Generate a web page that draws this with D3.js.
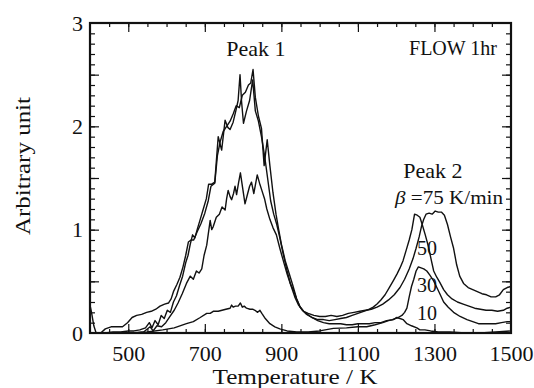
<!DOCTYPE html>
<html>
<head>
<meta charset="utf-8">
<script src="https://cdn.jsdelivr.net/npm/d3@7"></script>
<style>
  html, body { margin: 0; padding: 0; background: #fff; }
  svg { display: block; }
  text { font-family: "Liberation Serif", "Times New Roman", serif; fill: #111; }
</style>
</head>
<body>
<div id="chart"></div>
<script>
const width = 534;
const height = 388;
const margin = { top: 23, right: 23, bottom: 55, left: 90 };

// [temperature K, arbitrary unit]
const beta75 = [[400,0.27],[404,0.2],[410,0.07],[416,0.0],[428,0.0],[440,0.04],[455,0.06],[470,0.06],[485,0.06],[498,0.1],[510,0.15],[522,0.17],[535,0.18],[548,0.2],[560,0.21],[572,0.23],[583,0.26],[595,0.28],[605,0.29],[612,0.33],[618,0.4],[627,0.47],[635,0.54],[643,0.64],[650,0.75],[657,0.88],[664,0.9],[671,0.9],[680,0.98],[690,1.06],[700,1.16],[709,1.28],[716,1.42],[726,1.45],[733,1.72],[740,1.85],[748,1.95],[757,2.0],[766,2.05],[774,2.12],[782,2.2],[790,2.18],[798,2.3],[806,2.33],[814,2.4],[820,2.42],[826,2.55],[832,2.28],[840,2.1],[848,1.98],[855,1.62],[863,1.87],[870,1.62],[878,1.36],[886,1.15],[893,1.0],[900,0.86],[910,0.7],[920,0.58],[930,0.46],[940,0.33],[948,0.26],[958,0.21],[970,0.19],[985,0.17],[1000,0.16],[1015,0.16],[1030,0.17],[1045,0.16],[1060,0.17],[1075,0.19],[1090,0.2],[1105,0.21],[1120,0.22],[1135,0.23],[1150,0.25],[1165,0.28],[1180,0.32],[1195,0.37],[1210,0.44],[1222,0.52],[1234,0.62],[1244,0.72],[1252,0.82],[1260,0.93],[1266,1.03],[1272,1.1],[1278,1.15],[1286,1.16],[1294,1.15],[1302,1.18],[1310,1.17],[1318,1.17],[1326,1.14],[1334,1.05],[1342,0.93],[1350,0.82],[1358,0.66],[1366,0.55],[1376,0.48],[1388,0.44],[1400,0.42],[1412,0.4],[1424,0.38],[1436,0.37],[1448,0.35],[1460,0.35],[1470,0.37],[1480,0.42],[1490,0.44],[1500,0.45]];

const beta50 = [[400,0.0],[420,0.0],[440,0.0],[460,0.01],[480,0.01],[500,0.02],[515,0.02],[530,0.03],[545,0.05],[555,0.1],[562,0.05],[570,0.12],[578,0.08],[586,0.17],[594,0.14],[602,0.22],[610,0.2],[618,0.3],[626,0.36],[634,0.46],[642,0.55],[650,0.68],[656,0.75],[662,0.86],[668,0.95],[674,0.92],[680,1.0],[688,1.1],[696,1.2],[704,1.3],[710,1.44],[718,1.44],[726,1.46],[735,1.9],[744,1.77],[753,2.06],[760,1.99],[766,1.97],[774,2.04],[781,2.15],[787,2.25],[792,2.5],[796,2.24],[801,2.03],[809,2.15],[817,2.25],[825,2.45],[832,2.15],[840,2.05],[848,1.9],[856,1.72],[864,1.5],[872,1.28],[880,1.15],[888,1.05],[896,0.92],[905,0.76],[915,0.6],[925,0.46],[935,0.35],[945,0.27],[955,0.22],[968,0.18],[980,0.15],[995,0.13],[1010,0.13],[1025,0.12],[1040,0.13],[1055,0.14],[1070,0.15],[1085,0.17],[1100,0.19],[1115,0.21],[1130,0.23],[1140,0.25],[1150,0.28],[1160,0.32],[1171,0.37],[1182,0.44],[1193,0.51],[1202,0.57],[1210,0.63],[1218,0.7],[1226,0.8],[1234,0.9],[1241,1.0],[1248,1.15],[1255,1.14],[1262,1.12],[1268,1.05],[1276,0.95],[1284,0.84],[1292,0.7],[1298,0.6],[1306,0.54],[1314,0.49],[1324,0.42],[1334,0.37],[1346,0.33],[1360,0.3],[1375,0.28],[1390,0.26],[1405,0.24],[1420,0.23],[1435,0.22],[1450,0.22],[1465,0.21],[1480,0.22],[1490,0.24],[1500,0.25]];

const beta30 = [[400,0.0],[440,0.0],[480,0.0],[520,0.0],[540,0.01],[557,0.06],[565,0.02],[575,0.07],[587,0.06],[598,0.1],[609,0.16],[620,0.22],[630,0.29],[641,0.38],[652,0.48],[662,0.55],[670,0.52],[678,0.6],[685,0.58],[692,0.62],[698,0.75],[705,0.85],[714,1.09],[718,1.0],[722,1.03],[730,1.12],[738,1.15],[745,1.22],[753,1.19],[757,1.3],[761,1.38],[766,1.32],[770,1.29],[775,1.35],[779,1.42],[783,1.34],[788,1.45],[793,1.55],[799,1.4],[805,1.25],[812,1.35],[817,1.42],[822,1.46],[828,1.35],[833,1.45],[837,1.53],[843,1.45],[849,1.38],[856,1.3],[862,1.2],[870,1.1],[878,1.02],[887,0.95],[896,0.82],[905,0.7],[915,0.57],[923,0.48],[931,0.42],[940,0.33],[949,0.25],[958,0.21],[966,0.18],[980,0.15],[995,0.12],[1010,0.1],[1025,0.09],[1040,0.09],[1055,0.09],[1070,0.08],[1085,0.08],[1100,0.09],[1115,0.09],[1130,0.09],[1145,0.1],[1160,0.1],[1175,0.12],[1190,0.13],[1205,0.15],[1215,0.17],[1222,0.2],[1228,0.24],[1234,0.35],[1240,0.45],[1246,0.52],[1252,0.6],[1258,0.64],[1265,0.63],[1272,0.62],[1280,0.6],[1288,0.56],[1297,0.51],[1305,0.45],[1314,0.38],[1324,0.3],[1336,0.25],[1350,0.2],[1367,0.16],[1385,0.13],[1400,0.11],[1415,0.09],[1430,0.09],[1445,0.09],[1460,0.09],[1475,0.1],[1490,0.11],[1500,0.11]];

const beta10 = [[400,0.0],[450,0.0],[500,0.0],[550,0.01],[590,0.03],[620,0.05],[652,0.09],[670,0.11],[688,0.15],[705,0.19],[714,0.19],[722,0.21],[735,0.21],[745,0.22],[755,0.23],[766,0.24],[770,0.27],[774,0.25],[780,0.26],[787,0.26],[793,0.29],[798,0.25],[803,0.26],[809,0.24],[818,0.23],[825,0.23],[831,0.22],[838,0.2],[844,0.22],[849,0.19],[858,0.14],[870,0.09],[883,0.06],[896,0.04],[915,0.02],[940,0.01],[970,0.01],[1000,0.02],[1036,0.045],[1070,0.05],[1100,0.06],[1123,0.06],[1145,0.08],[1165,0.1],[1180,0.12],[1193,0.13],[1201,0.15],[1210,0.14],[1218,0.13],[1228,0.09],[1240,0.07],[1254,0.05],[1262,0.03],[1275,0.03],[1290,0.02],[1310,0.01],[1340,0.01],[1380,0.0],[1420,0.0],[1460,0.01],[1500,0.02]];

const series = [beta75, beta50, beta30, beta10];
const xTickLabels = [500, 700, 900, 1100, 1300, 1500];
const yTickLabels = [0, 1, 2, 3];
const rateLabels = ["50", "30", "10"];

const svg = d3.select("#chart")
    .append("svg")
    .attr("width", width)
    .attr("height", height)
    .attr("viewBox", [0, 0, width, height]);

const x = d3.scaleLinear()
    .domain([400, 1500])
    .range([margin.left, width - margin.right]);

const y = d3.scaleLinear()
    .domain([0, 3])
    .range([height - margin.bottom, margin.top]);

const xMinor = d3.range(450, 1500, 50);
const xMajor = [500, 700, 900, 1100, 1300];
const yMinor = d3.range(0.1, 3, 0.1);
const yMajor = [0.5, 1, 1.5, 2, 2.5];

function ticks(g) {
    g.select(".domain").remove();
    g.selectAll("line").attr("stroke", "#111").attr("stroke-width", 1.2);
}

// minor + major ticks, all pointing inward
const x0 = height - margin.bottom, x1 = margin.top;
const yL = margin.left, yR = width - margin.right;

svg.append("g").attr("transform", `translate(0,${x0})`)
    .call(d3.axisBottom(x).tickValues(xMinor).tickSize(-4).tickFormat("")).call(ticks);
svg.append("g").attr("transform", `translate(0,${x0})`)
    .call(d3.axisBottom(x).tickValues(xMajor).tickSize(-9).tickFormat("")).call(ticks);
svg.append("g").attr("transform", `translate(0,${x1})`)
    .call(d3.axisTop(x).tickValues(xMinor).tickSize(-4).tickFormat("")).call(ticks);
svg.append("g").attr("transform", `translate(0,${x1})`)
    .call(d3.axisTop(x).tickValues(xMajor).tickSize(-9).tickFormat("")).call(ticks);

svg.append("g").attr("transform", `translate(${yL},0)`)
    .call(d3.axisLeft(y).tickValues(yMinor).tickSize(-5).tickFormat("")).call(ticks);
svg.append("g").attr("transform", `translate(${yL},0)`)
    .call(d3.axisLeft(y).tickValues(yMajor).tickSize(-9).tickFormat("")).call(ticks);
svg.append("g").attr("transform", `translate(${yR},0)`)
    .call(d3.axisRight(y).tickValues(yMinor).tickSize(-5).tickFormat("")).call(ticks);
svg.append("g").attr("transform", `translate(${yR},0)`)
    .call(d3.axisRight(y).tickValues(yMajor).tickSize(-9).tickFormat("")).call(ticks);

// tick labels
svg.append("g").attr("transform", `translate(0,${x0})`)
    .call(d3.axisBottom(x).tickValues(xTickLabels).tickSize(0).tickPadding(12).tickFormat(d3.format("d")))
    .call(g => g.select(".domain").remove())
    .selectAll("text")
    .attr("font-size", 22)
    .attr("font-family", "Liberation Serif, serif");

svg.append("g").attr("transform", `translate(${yL},0)`)
    .call(d3.axisLeft(y).tickValues(yTickLabels).tickSize(0).tickPadding(7).tickFormat(d3.format("d")))
    .call(g => g.select(".domain").remove())
    .selectAll("text")
    .attr("font-size", 22)
    .attr("font-family", "Liberation Serif, serif");

// curves
const line = d3.line()
    .x(d => x(d[0]))
    .y(d => y(d[1]));

svg.append("g")
    .attr("fill", "none")
    .attr("stroke", "#111")
    .attr("stroke-width", 1.4)
    .attr("stroke-linejoin", "round")
    .selectAll("path")
    .data(series)
    .join("path")
    .attr("d", line);

// frame
svg.append("rect")
    .attr("x", yL)
    .attr("y", x1)
    .attr("width", yR - yL)
    .attr("height", x0 - x1)
    .attr("fill", "none")
    .attr("stroke", "#111")
    .attr("stroke-width", 2.2);

// axis titles
svg.append("text")
    .attr("x", 295)
    .attr("y", 384)
    .attr("text-anchor", "middle")
    .attr("font-size", 22)
    .attr("textLength", 165)
    .attr("lengthAdjust", "spacingAndGlyphs")
    .text("Temperature / K");

svg.append("text")
    .attr("transform", "translate(30,166) rotate(-90)")
    .attr("text-anchor", "middle")
    .attr("font-size", 21)
    .attr("textLength", 138)
    .attr("lengthAdjust", "spacingAndGlyphs")
    .text("Arbitrary unit");

// annotations
svg.append("text").attr("x", 256).attr("y", 56).attr("text-anchor", "middle")
    .attr("font-size", 22).text("Peak 1");
svg.append("text").attr("x", 497).attr("y", 55).attr("text-anchor", "end")
    .attr("font-size", 20).text("FLOW 1hr");
svg.append("text").attr("x", 433).attr("y", 178).attr("text-anchor", "middle")
    .attr("font-size", 22).text("Peak 2");

const beta = svg.append("text").attr("x", 395).attr("y", 204)
    .attr("font-size", 18)
    .attr("textLength", 108)
    .attr("lengthAdjust", "spacingAndGlyphs");
beta.append("tspan").attr("font-style", "italic").text("β");
beta.append("tspan").text(" =75 K/min");

svg.append("g")
    .attr("font-size", 20)
    .selectAll("text")
    .data(rateLabels)
    .join("text")
    .attr("x", 417)
    .attr("y", (d, i) => [255, 292, 320][i])
    .text(d => d);
</script>
</body>
</html>
